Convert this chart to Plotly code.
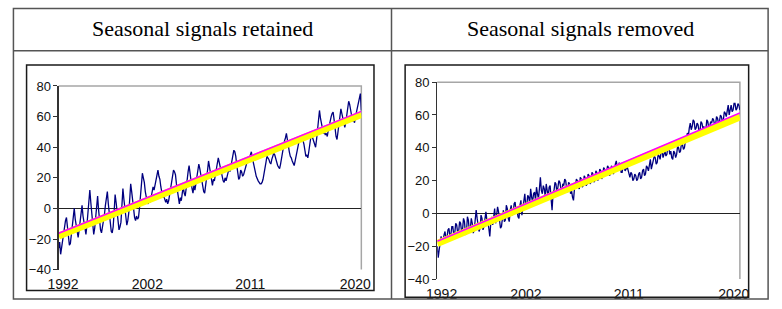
import plotly.graph_objects as go

W, H = 782, 309

# ---------------- data ----------------
headers = ["Seasonal signals retained", "Seasonal signals removed"]
year_labels = ["1992", "2002", "2011", "2020"]
y_ticks = [-40, -20, 0, 20, 40, 60, 80]

# sea level anomaly, seasonal signals retained (mm), one sample per screen step
sla_retained = [
    -26, -22, -30, -25, -22, -16, -12, -8, -6, -14, -18, -24, -23, -17, -9, -4,
    0, -7, -12, -16, -19, -14, -8, -3, 2, -5, -10, -14, -17, -11, -2, 5,
    12, 4, -3, -12, -17, -13, -6, 0, 8, -1, -8, -14, -16, -12, -10, -4,
    2, 6, 11, 3, -4, -10, -15, -16, -12, -2, 9, 4, -2, -9, -14, -12,
    -9, 2, 13, 6, 1, -6, -11, -8, -3, 6, 16, 11, 5, -1, -6, -8,
    -5, -7, -6, 0, 8, 16, 23, 20, 17, 11, 7, 4, 3, 6, 4, 7,
    9, 14, 12, 16, 18, 22, 25, 21, 19, 14, 11, 7, 8, 5, 4, 6,
    3, 5, 9, 13, 18, 22, 25, 24, 22, 16, 12, 6, 3, 7, 5, 10,
    14, 10, 8, 13, 20, 24, 28, 22, 17, 13, 10, 15, 12, 16, 20, 25,
    29, 26, 22, 17, 14, 11, 10, 14, 18, 25, 31, 27, 22, 18, 15, 19,
    18, 22, 25, 29, 33, 30, 27, 23, 20, 18, 17, 20, 18, 21, 22, 26,
    24, 27, 30, 35, 38, 37, 34, 28, 22, 19, 20, 25, 24, 21, 22, 25,
    26, 29, 30, 31, 33, 36, 37, 33, 29, 26, 24, 21, 19, 18, 17, 16,
    16, 17, 19, 22, 25, 30, 34, 33, 32, 30, 29, 32, 34, 36, 35, 32,
    30, 28, 27, 26, 29, 33, 38, 41, 44, 46, 49, 45, 40, 37, 34, 33,
    31, 29, 28, 31, 35, 38, 40, 44, 46, 45, 47, 45, 42, 38, 34, 35,
    33, 37, 42, 46, 48, 46, 44, 41, 40, 45, 52, 58, 64, 59, 55, 51,
    49, 50, 48, 49, 47, 51, 55, 58, 60, 62, 63, 58, 52, 47, 45, 50,
    55, 61, 65, 62, 58, 55, 53, 56, 60, 65, 70, 68, 64, 60, 57, 58,
    56, 60, 63, 66, 70, 72, 75, 64,
]

# sea level anomaly, seasonal signals removed (mm), one sample per screen step
sla_removed = [
    -20, -27, -22, -16, -14, -19, -17, -13, -11, -16, -15, -10, -9, -14, -13, -8,
    -8, -13, -12, -6, -7, -12, -11, -5, -6, -11, -10, -3, -5, -13, -12, -2,
    -4, -11, -9, -3, -6, -12, -10, -4, 2, -3, -6, -11, -9, -1, -3, -10,
    -8, -2, 1, -4, -5, -9, -14, -6, -2, -7, 0, 3, -6, -2, 4, 1,
    -3, -9, -8, -1, 2, -5, -4, 5, 3, -3, -5, 2, 5, -1, 0, 6,
    7, 1, 2, -2, -3, 5, 8, -1, 3, 9, 12, 4, 5, 11, 10, 6,
    15, 10, 7, 12, 13, 8, 16, 12, 9, 15, 22, 14, 12, 17, 15, 10,
    18, 14, 10, 16, 17, 9, 2, 12, 14, 19, 18, 12, 15, 20, 19, 14,
    12, 18, 17, 21, 20, 15, 13, 19, 18, 12, 14, 10, 8, 15, 17, 21,
    20, 16, 15, 22, 21, 16, 17, 23, 22, 17, 18, 24, 23, 18, 19, 25,
    24, 19, 20, 26, 25, 20, 22, 27, 26, 21, 23, 28, 27, 23, 25, 29,
    28, 23, 24, 29, 28, 24, 26, 30, 32, 28, 27, 31, 29, 25, 25, 29,
    30, 26, 27, 29, 26, 23, 22, 25, 24, 20, 21, 24, 23, 20, 21, 24,
    25, 21, 22, 26, 27, 23, 24, 29, 28, 26, 30, 33, 27, 30, 32, 35,
    34, 30, 31, 36, 35, 33, 37, 39, 34, 37, 38, 35, 36, 41, 40, 36,
    38, 34, 33, 38, 37, 34, 36, 41, 40, 37, 38, 43, 42, 39, 40, 44,
    45, 49, 47, 52, 55, 51, 53, 57, 56, 51, 52, 55, 54, 50, 50, 56,
    55, 52, 53, 50, 51, 57, 56, 52, 53, 56, 55, 58, 57, 54, 54, 59,
    58, 55, 56, 60, 59, 56, 57, 62, 61, 59, 63, 66, 60, 64, 66, 62,
    63, 67, 67, 63, 64, 67, 66, 63,
]

# linear trends (start, end)
trend_fit_retained = [-18.0, 61.3]
trend_ref_retained = [-16.2, 63.4]
trend_fit_removed = [-18.3, 58.8]
trend_ref_removed = [-17.0, 61.2]

# ---------------- layout helpers ----------------
def px(x):
    return x / W

def py(y):
    return 1 - y / H

panels = [
    dict(vals=sla_retained, fit=trend_fit_retained, ref=trend_ref_retained,
         xdom=[px(49), px(360)], ydom=[py(276), py(83)],
         frame=(16, 61, 373, 298), head_x=197),
    dict(vals=sla_removed, fit=trend_fit_removed, ref=trend_ref_removed,
         xdom=[px(438), px(749)], ydom=[py(286), py(79)],
         frame=(405, 61, 758, 305), head_x=585),
]

label_frac = [0.0145, 0.293, 0.633, 0.98]

fig = go.Figure()
shapes = []
annotations = []
layout = {}

for i, p in enumerate(panels, start=1):
    xa = "x" if i == 1 else f"x{i}"
    ya = "y" if i == 1 else f"y{i}"
    vals = p["vals"]
    n = len(vals)
    xs = list(range(n))
    fig.add_trace(go.Scatter(x=xs, y=vals, mode="lines",
                             line=dict(color="#00007f", width=1.3),
                             xaxis=xa, yaxis=ya, showlegend=False, hoverinfo="skip"))
    fig.add_trace(go.Scatter(x=[0, n - 1], y=p["fit"], mode="lines",
                             line=dict(color="#ffff00", width=7),
                             xaxis=xa, yaxis=ya, showlegend=False, hoverinfo="skip"))
    fig.add_trace(go.Scatter(x=[0, n - 1], y=p["ref"], mode="lines",
                             line=dict(color="#ff00ff", width=1.6),
                             xaxis=xa, yaxis=ya, showlegend=False, hoverinfo="skip"))

    xkey = "xaxis" if i == 1 else f"xaxis{i}"
    ykey = "yaxis" if i == 1 else f"yaxis{i}"
    layout[xkey] = dict(
        domain=p["xdom"], anchor=ya, range=[0, n - 1],
        tickmode="array", tickvals=[f * (n - 1) for f in label_frac], ticktext=year_labels,
        ticks="outside", ticklen=2, tickcolor="rgba(0,0,0,0)",
        showgrid=False, zeroline=False, showline=False,
        tickfont=dict(family="Liberation Sans Narrow, Liberation Sans, Arial", size=14, color="#111"),
        fixedrange=True,
    )
    layout[ykey] = dict(
        domain=p["ydom"], anchor=xa, range=[-40, 80],
        tickmode="array", tickvals=y_ticks,
        ticks="outside", ticklen=4, tickwidth=1, tickcolor="#333",
        showline=True, linecolor="#333", linewidth=1.2,
        showgrid=False, zeroline=True, zerolinecolor="#222", zerolinewidth=1.2,
        tickfont=dict(family="Liberation Sans, Arial", size=13, color="#111"),
        fixedrange=True,
    )
    # gray plot-area border (top and right)
    x0, x1 = p["xdom"]
    y0, y1 = p["ydom"]
    shapes.append(dict(type="path", xref="paper", yref="paper",
                       path=f"M {x0} {y1} L {x1} {y1} L {x1} {y0}",
                       line=dict(color="#a6a6a6", width=1.5), layer="below"))
    # black chart-image frame
    fx0, fy0, fx1, fy1 = p["frame"]
    shapes.append(dict(type="rect", xref="paper", yref="paper",
                       x0=px(fx0), x1=px(fx1), y0=py(fy1), y1=py(fy0),
                       line=dict(color="#1a1a1a", width=1.5)))
    annotations.append(dict(text=headers[i - 1], xref="paper", yref="paper",
                            x=px(p["head_x"]), y=py(23), xanchor="center", yanchor="middle",
                            showarrow=False,
                            font=dict(family="Liberation Serif, Times New Roman", size=22, color="#000")))

# table borders
tcol = "#555555"
shapes += [
    dict(type="rect", xref="paper", yref="paper", x0=px(2.5), x1=px(778), y0=py(307), y1=py(1.5),
         line=dict(color=tcol, width=1.5)),
    dict(type="line", xref="paper", yref="paper", x0=px(391), x1=px(391), y0=py(307), y1=py(1.5),
         line=dict(color=tcol, width=1.5)),
    dict(type="line", xref="paper", yref="paper", x0=px(2.5), x1=px(778), y0=py(46), y1=py(46),
         line=dict(color=tcol, width=1.5)),
]

fig.update_layout(
    width=W, height=H, margin=dict(l=0, r=0, t=0, b=0),
    paper_bgcolor="white", plot_bgcolor="white",
    shapes=shapes, annotations=annotations, **layout,
)

fig.write_html(
    "out.html",
    config=dict(displayModeBar=False, staticPlot=True),
    post_script="document.body.style.margin='0';document.body.style.overflow='hidden';",
)
